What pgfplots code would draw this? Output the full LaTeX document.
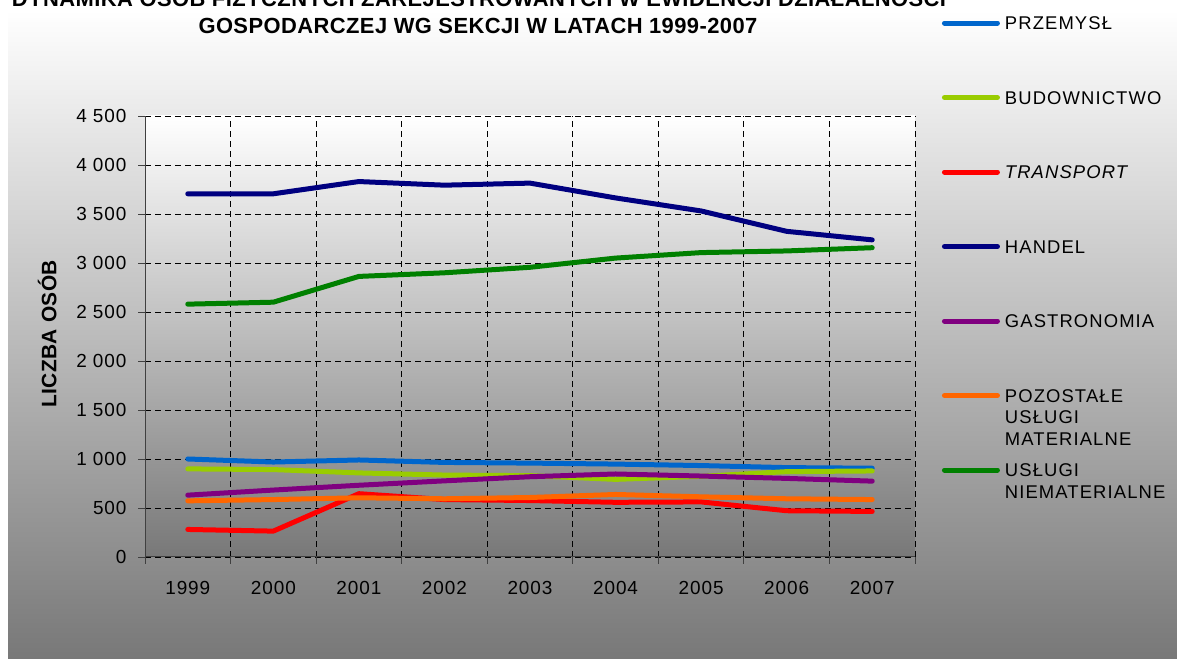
\documentclass[border=0pt]{standalone}
\usepackage{pgfplots}
\pgfplotsset{compat=1.18}
\usepackage{fontspec}
\setmainfont{Liberation Sans}
\newfontfamily\titlefont[LetterSpace=2]{Liberation Sans}
\newfontfamily\lsfont[LetterSpace=6]{Liberation Sans}
\newfontfamily\tkfont[LetterSpace=5]{Liberation Sans}
\definecolor{cPrz}{HTML}{0066CC}
\definecolor{cBud}{HTML}{99CC00}
\definecolor{cTra}{HTML}{FF0000}
\definecolor{cHan}{HTML}{000080}
\definecolor{cGas}{HTML}{800080}
\definecolor{cPoz}{HTML}{FF6600}
\definecolor{cUsl}{HTML}{008000}
\definecolor{bgbot}{HTML}{787878}
\definecolor{plotbot}{HTML}{787878}
\definecolor{axisgray}{HTML}{404040}
\begin{document}
\begin{tikzpicture}[x=1bp,y=1bp]
\useasboundingbox (0,0) rectangle (1177,659);
\fill[white] (0,0) rectangle (1177,659);
\shade[top color=white, bottom color=bgbot] (8,0) rectangle (1177,649);
\node[anchor=base, font=\titlefont\bfseries\fontsize{22}{26}\selectfont] at (479,652) {DYNAMIKA OSÓB FIZYCZNYCH ZAREJESTROWANYCH W EWIDENCJI DZIAŁALNOŚCI};
\node[anchor=base, font=\titlefont\bfseries\fontsize{22}{26}\selectfont] at (478,625) {GOSPODARCZEJ WG SEKCJI W LATACH 1999-2007};
\begin{axis}[
  at={(145bp,102bp)}, anchor=south west,
  width=770bp, height=441bp, scale only axis,
  xmin=-0.5, xmax=8.5, ymin=0, ymax=4500,
  axis x line*=bottom, axis y line*=left,
  axis line style={draw=axisgray, line width=1bp},
  xtick={-0.5,0.5,...,8.5}, xticklabels={},
  extra x ticks={0,1,2,3,4,5,6,7,8},
  extra x tick labels={1999,2000,2001,2002,2003,2004,2005,2006,2007},
  extra x tick style={grid=none, major tick length=0bp},
  xmajorgrids, ymajorgrids,
  ytick={0,500,...,4500},
  yticklabels={0,500,1 000,1 500,2 000,2 500,3 000,3 500,4 000,4 500},
  tick align=outside, major tick length=7bp,
  tick style={draw=axisgray, line width=0.8bp},
  grid style={draw=black, line width=0.8bp, dash pattern=on 6bp off 4bp},
  axis background/.style={top color=white, bottom color=plotbot},
  ticklabel style={font=\tkfont\fontsize{19}{22}\selectfont},
  xticklabel style={anchor=center, yshift=-31bp},
  yticklabel style={anchor=east, xshift=-8bp},
  every axis y label/.style={at={(axis description cs:-0.127,0.506)}, rotate=90, anchor=center, font=\titlefont\bfseries\fontsize{21}{24}\selectfont},
  ylabel={LICZBA OSÓB},
  legend cell align=left,
  legend style={at={(axis description cs:1.035,1.2256)}, anchor=north west,
    draw=none, fill=none, inner sep=0pt, outer sep=0pt,
    row sep=61.5bp, column sep=5bp,
    nodes={inner sep=0pt, text height=13bp, text depth=0bp, font=\lsfont\fontsize{18.5}{22}\selectfont}},
  legend image code/.code={\draw[#1, line cap=round] (2.5bp,0bp) -- (55.5bp,0bp);},
  every axis plot/.append style={line width=5bp, line join=round, line cap=round},
]
\addplot[cPrz] coordinates {(0,1000) (1,969) (2,990) (3,965) (4,958) (5,948) (6,933) (7,912) (8,906)};
\addlegendentry{PRZEMYSŁ}
\addplot[cBud] coordinates {(0,899) (1,892) (2,858) (3,836) (4,830) (5,792) (6,823) (7,871) (8,878)};
\addlegendentry{BUDOWNICTWO}
\addplot[cTra] coordinates {(0,281) (1,264) (2,646) (3,586) (4,576) (5,558) (6,562) (7,472) (8,465)};
\addlegendentry{\textit{TRANSPORT}}
\addplot[cHan] coordinates {(0,3706) (1,3706) (2,3831) (3,3794) (4,3815) (5,3664) (6,3531) (7,3323) (8,3236)};
\addlegendentry{HANDEL}
\addplot[cGas] coordinates {(0,631) (1,683) (2,732) (3,777) (4,819) (5,847) (6,826) (7,802) (8,774)};
\addlegendentry{GASTRONOMIA}
\addplot[cPoz] coordinates {(0,573) (1,586) (2,604) (3,594) (4,607) (5,638) (6,614) (7,594) (8,586)};
\addlegendentry{\smash{\parbox[t]{170bp}{\raggedright POZOSTAŁE\\USŁUGI\\MATERIALNE}}}
\addplot[cUsl] coordinates {(0,2580) (1,2600) (2,2863) (3,2900) (4,2956) (5,3050) (6,3106) (7,3123) (8,3156)};
\addlegendentry{\smash{\parbox[t]{170bp}{\raggedright USŁUGI\\NIEMATERIALNE}}}
\end{axis}
\end{tikzpicture}
\end{document}
